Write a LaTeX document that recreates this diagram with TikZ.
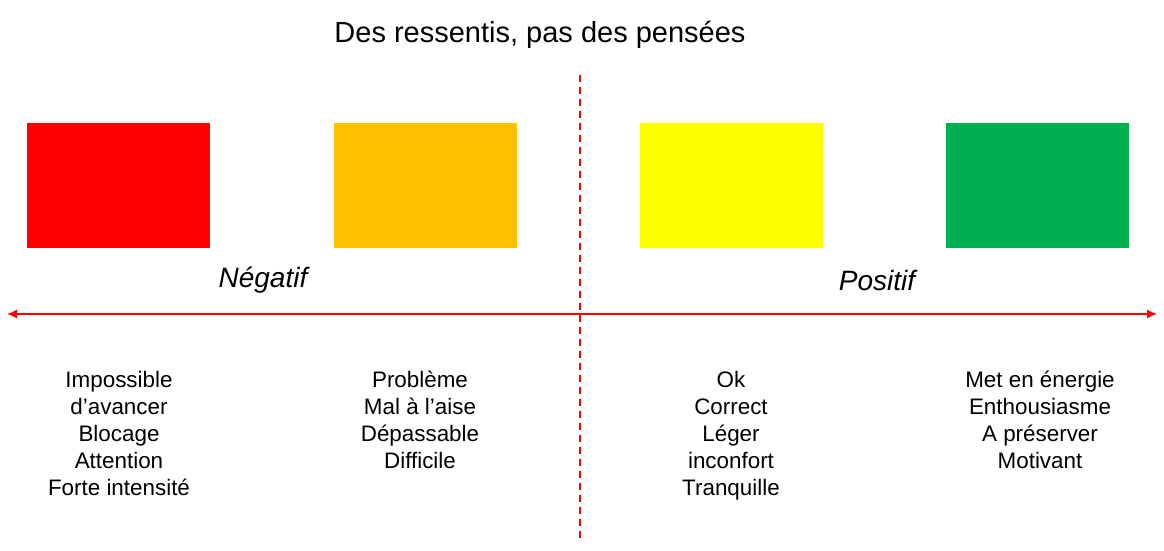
\documentclass[tikz,border=0pt]{standalone}
\usepackage{fontspec}
\setmainfont{Liberation Sans}
\usetikzlibrary{arrows.meta,positioning}

\begin{document}
\begin{tikzpicture}[x=1pt,y=-1pt,
  humeur/.style={minimum width=183pt,minimum height=125pt,inner sep=0pt},
  liste/.style={align=center,anchor=north,inner sep=0pt,font=\fontsize{22.4}{27}\selectfont},
  pole/.style={font=\fontsize{28}{32}\selectfont\itshape}]
\useasboundingbox (0,0) rectangle (1164,550);
\definecolor{rouge}{HTML}{FF0000}
\definecolor{orange}{HTML}{FFC000}
\definecolor{jaune}{HTML}{FFFF00}
\definecolor{vert}{HTML}{00B050}
\node[font=\fontsize{29}{34}\selectfont] (titre) at (540,35) {Des ressentis, pas des pensées};
\node[humeur,fill=rouge] (h1) at (118.5,185.5) {};
\node[humeur,fill=orange] (h2) at (425,185.5) {};
\node[humeur,fill=jaune] (h3) at (731,185.5) {};
\node[humeur,fill=vert] (h4) at (1037,185.5) {};
\node[pole] (neg) at (263,280) {Négatif};
\node[pole] (pos) at (877,280) {Positif};
\coordinate (gauche) at (7,314);
\coordinate (droite) at (1157,314);
\coordinate (haut) at (580,75);
\coordinate (bas) at (580,538);
\draw[rouge,line width=1.3pt,dash pattern=on 7pt off 5pt] (haut) -- (bas);
\draw[rouge,line width=1.3pt,{Latex[length=10pt,width=9pt]}-{Latex[length=10pt,width=9pt]}] (gauche) -- (droite);
\node[liste] (l1) at (119,371) {Impossible\\d’avancer\\Blocage\\Attention\\Forte intensité};
\node[liste] (l2) at (420,371) {Problème\\Mal à l’aise\\Dépassable\\Difficile};
\node[liste] (l3) at (731,371) {Ok\\Correct\\Léger\\inconfort\\Tranquille};
\node[liste] (l4) at (1040,371) {Met en énergie\\Enthousiasme\\A préserver\\Motivant};
\end{tikzpicture}
\end{document}
